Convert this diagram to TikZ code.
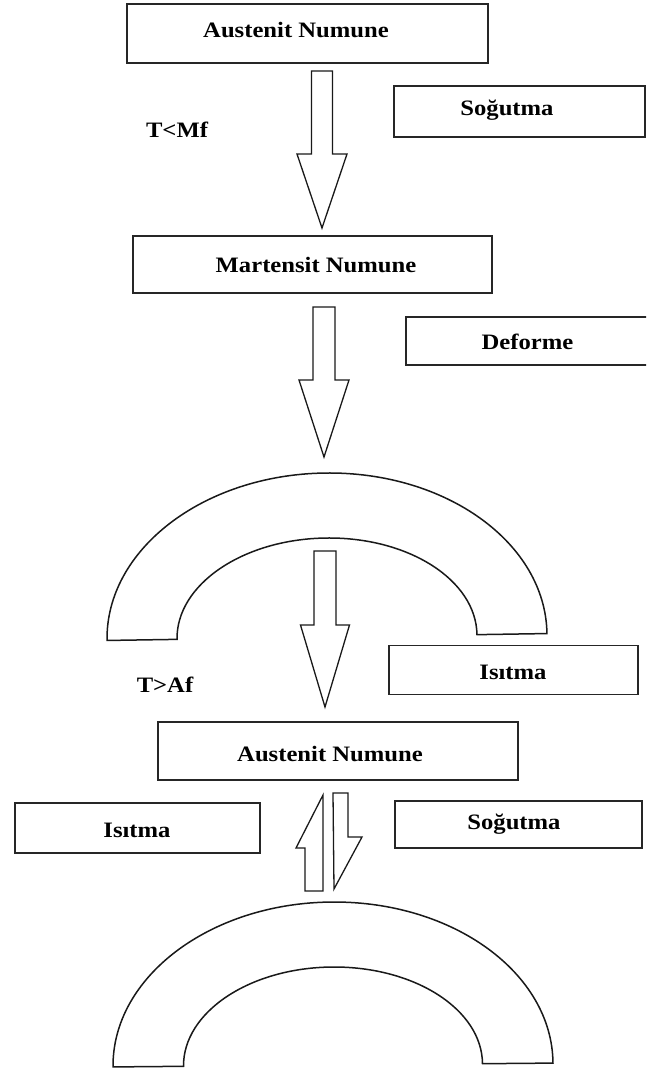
\documentclass[tikz,border=0pt]{standalone}
\usepackage{fontspec}
\setmainfont{Liberation Serif}[FakeStretch=1.12]
\begin{document}
\begin{tikzpicture}[x=1pt,y=-1pt,
  box/.style={draw=black!85,line width=1.4pt,rectangle,inner sep=0pt},
  lbl/.style={font=\fontsize{22}{26}\selectfont\bfseries,inner sep=0pt},
  arr/.style={draw=black!90,line width=1.3pt,line join=miter,fill=white},
  archline/.style={draw=black!90,line width=1.5pt,fill=white}]
\newcommand{\blockdown}[6]{%
  \draw[arr] (#1-#5,#2) -- (#1+#5,#2) -- (#1+#5,#3) -- (#1+#6,#3) -- (#1,#4) -- (#1-#6,#3) -- (#1-#5,#3) -- cycle;}
\useasboundingbox (0,0) rectangle (646,1072);
\fill[white] (0,0) rectangle (646,1072);
\begin{scope}
\clip (0,0) rectangle (646,1072);
% boxes
\node[box,minimum width=361pt,minimum height=59pt] (a1) at (307.5,33.5) {};
\node[lbl] (a1t) at (296,30) {Austenit Numune};
\node[box,minimum width=251pt,minimum height=51pt] (s1) at (519.5,111.5) {};
\node[lbl] (s1t) at (507,110) {Soğutma};
\node[lbl] (tmf) at (177,130) {T<Mf};
\node[box,minimum width=359pt,minimum height=57pt] (m1) at (312.5,264.5) {};
\node[lbl] (m1t) at (316,265) {Martensit Numune};
\node[box,minimum width=250pt,minimum height=48pt] (d1) at (531,341) {};
\node[lbl] (d1t) at (527.5,342) {Deforme};
% arrows
\blockdown{322}{71}{154}{228}{10.5}{25}
\blockdown{324}{307}{380}{457}{11}{25}
% arch 1
\draw[archline,rotate around={0.9:(327,637)}] (107,637) arc[start angle=180,end angle=0,x radius=220pt,y radius=164pt]
  -- (477,637) arc[start angle=0,end angle=180,x radius=150pt,y radius=99pt] -- cycle;
\blockdown{325}{551}{625}{707}{11}{24.5}
\node[box,minimum width=249pt,minimum height=49pt] (i1) at (513.5,670) {};
\node[lbl] (i1t) at (513,672) {Isıtma};
\node[lbl] (taf) at (165,685) {T>Af};
\node[box,minimum width=360pt,minimum height=58pt] (a2) at (338,751) {};
\node[lbl] (a2t) at (330,754) {Austenit Numune};
\node[box,minimum width=245pt,minimum height=50pt] (i2) at (137.5,828) {};
\node[lbl] (i2t) at (137,830) {Isıtma};
\node[box,minimum width=247pt,minimum height=47pt] (s2) at (518.5,824.5) {};
\node[lbl] (s2t) at (514,824) {Soğutma};
% double arrows
\draw[arr] (305,891) -- (323,891) -- (323,795) -- (296,848) -- (305,848) -- cycle;
\draw[arr] (333,793) -- (348,793) -- (348,837) -- (362,837) -- (334,889) -- cycle;
% arch 2
\draw[archline,rotate around={0.5:(333,1065)}] (113,1065) arc[start angle=180,end angle=0,x radius=220pt,y radius=163pt]
  -- (482.5,1065) arc[start angle=0,end angle=180,x radius=149.5pt,y radius=98pt] -- cycle;
\end{scope}
\end{tikzpicture}
\end{document}
